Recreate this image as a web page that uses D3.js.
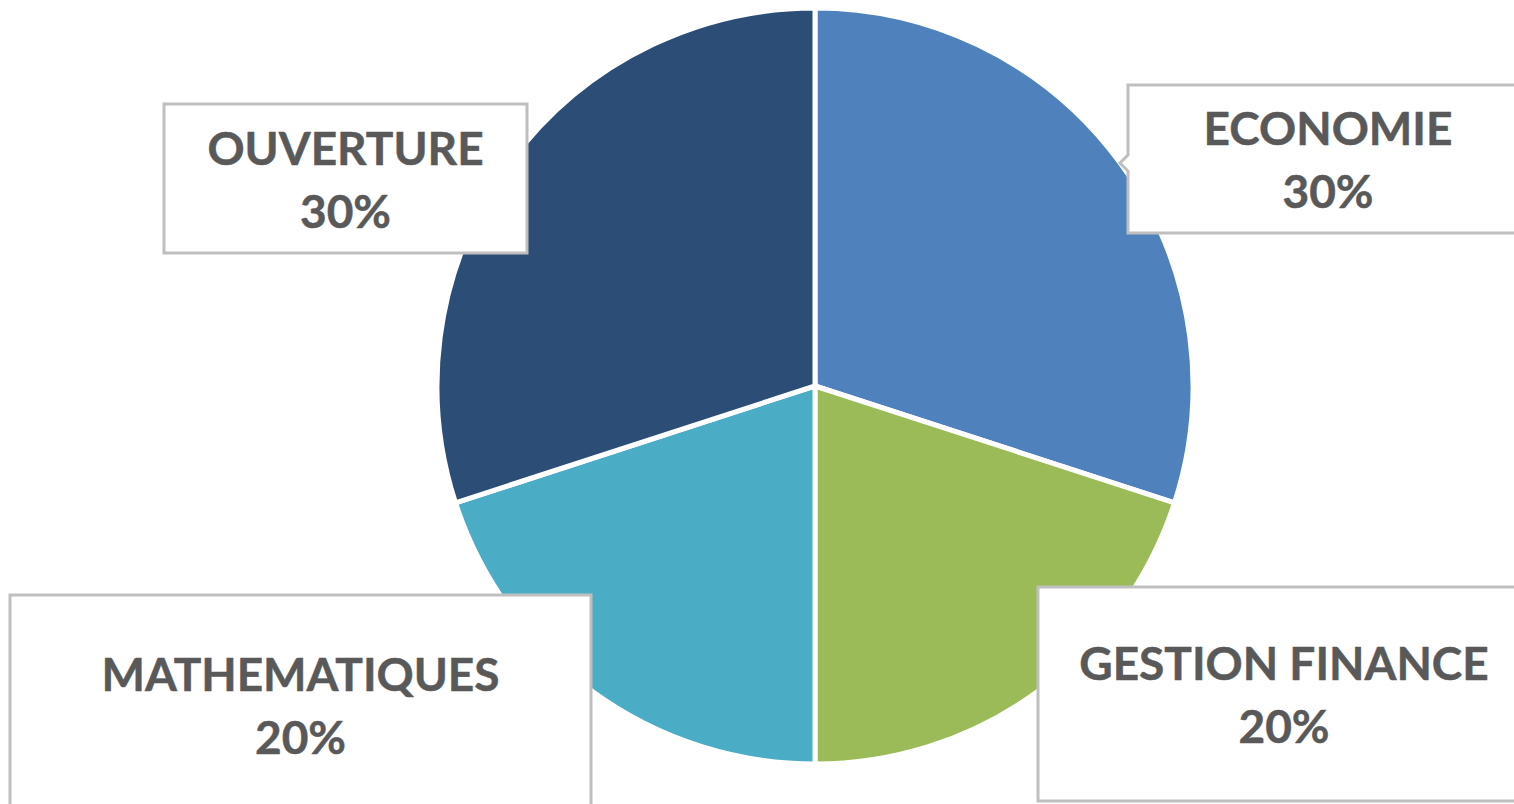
<!DOCTYPE html>
<html lang="fr">
<head>
  <meta charset="UTF-8">
  <title>Répartition</title>
  <style>
    html, body {
      margin: 0;
      padding: 0;
      background: #fff;
      overflow: hidden;
    }

    .slice {
      stroke: #fff;
      stroke-width: 5;
    }

    .label-box {
      fill: #fff;
      stroke: #bfbfbf;
      stroke-width: 3;
    }

    .label-text {
      fill: #595959;
      stroke: #595959;
      stroke-width: 0.5;
      stroke-linejoin: round;
      font-family: Lato, "Open Sans", sans-serif;
      font-weight: bold;
      font-size: 46px;
      text-anchor: middle;
    }
  </style>
</head>
<body>
  <svg></svg>
</body>
<script src="https://d3js.org/d3.v7.min.js"></script>
<script>

  let categories = ['ECONOMIE', 'GESTION FINANCE', 'MATHEMATIQUES', 'OUVERTURE'];
  let values = [30, 20, 20, 30];
  let colors = ['#4f81bd', '#9bbb59', '#4bacc6', '#2c4d75'];

  // box placement for each label (left, top, width, height)
  let boxes = [
    { x: 1128, y: 85, w: 400, h: 148, pointer: true },
    { x: 1038, y: 587, w: 492, h: 214 },
    { x: 10, y: 595, w: 581, h: 220 },
    { x: 164, y: 104, w: 363, h: 149 }
  ];

  let width = 1514,
    height = 804;

  let cx = 815,
    cy = 386,
    radius = 378;

  let svg = d3.select('svg')
    .attr('width', width)
    .attr('height', height);

  let pie = d3.pie()
    .sort(null)
    .value(d => d);

  let arc = d3.arc()
    .innerRadius(0)
    .outerRadius(radius);

  let arcs = pie(values);

  svg.append('g')
    .attr('transform', `translate(${cx},${cy})`)
    .selectAll('path')
    .data(arcs)
    .enter()
    .append('path')
    .attr('class', 'slice')
    .attr('d', arc)
    .attr('fill', (d, i) => colors[i]);

  let total = d3.sum(values);

  let labels = svg.selectAll('.label')
    .data(categories)
    .enter()
    .append('g')
    .attr('class', 'label');

  labels.append('path')
    .attr('class', 'label-box')
    .attr('d', (d, i) => {
      let b = boxes[i];
      let p = d3.path();
      p.moveTo(b.x, b.y);
      p.lineTo(b.x + b.w, b.y);
      p.lineTo(b.x + b.w, b.y + b.h);
      p.lineTo(b.x, b.y + b.h);
      if (b.pointer) {
        p.lineTo(b.x, b.y + 86);
        p.lineTo(b.x - 8, b.y + 78);
        p.lineTo(b.x, b.y + 70);
      }
      p.closePath();
      return p.toString();
    });

  labels.append('text')
    .attr('class', 'label-text')
    .attr('x', (d, i) => boxes[i].x + boxes[i].w / 2)
    .attr('y', (d, i) => boxes[i].y + boxes[i].h / 2 - 14)
    .text(d => d);

  labels.append('text')
    .attr('class', 'label-text')
    .attr('x', (d, i) => boxes[i].x + boxes[i].w / 2)
    .attr('y', (d, i) => boxes[i].y + boxes[i].h / 2 + 49)
    .text((d, i) => Math.round(values[i] / total * 100) + '%');

</script>
</html>
